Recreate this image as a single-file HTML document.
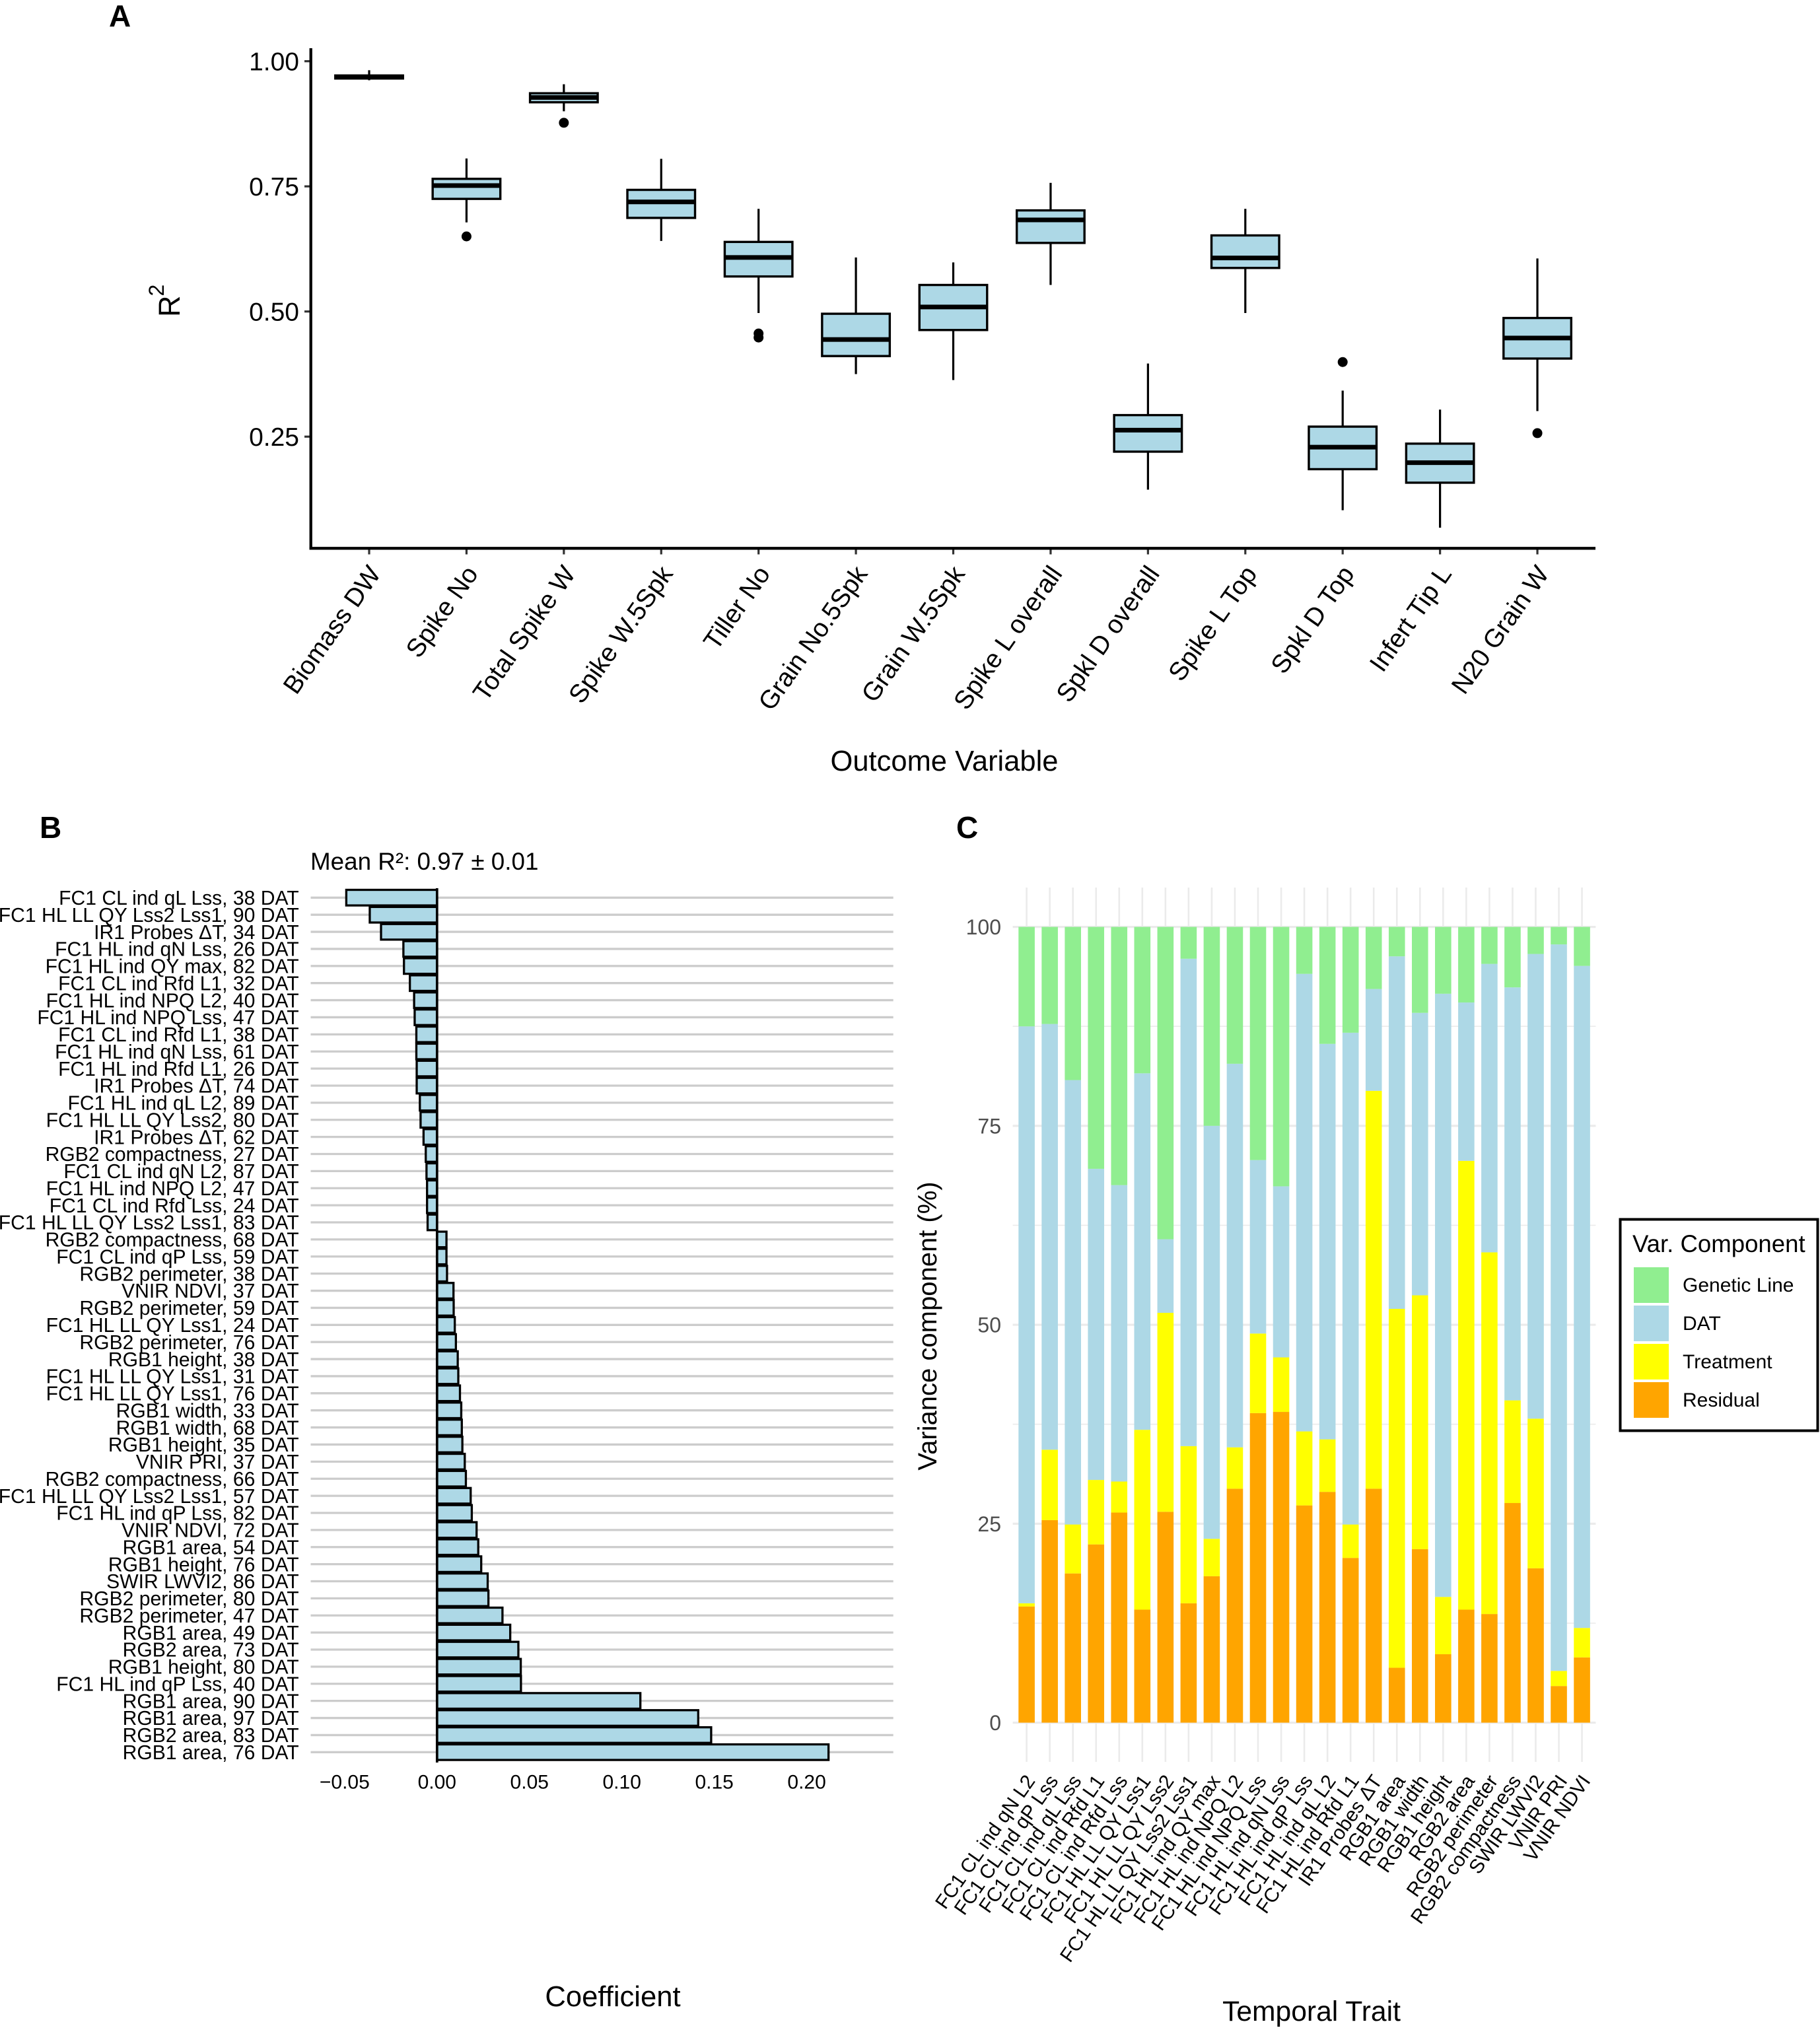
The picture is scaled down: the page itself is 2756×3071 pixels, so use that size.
<!DOCTYPE html>
<html lang="en">
<head>
<meta charset="utf-8">
<title>Model performance, coefficients and variance components</title>
<style>
html,body{margin:0;padding:0;background:#fff;}
svg{display:block;font-family:"Liberation Sans",Arial,Helvetica,sans-serif;}
</style>
</head>
<body>
<svg id="fig" xmlns="http://www.w3.org/2000/svg" width="2756" height="3071" viewBox="0 0 2756 3071">
<rect width="2756" height="3071" fill="#fff"/>
<text x="165" y="40" font-size="46" font-weight="700">A</text>
<text x="60" y="1269" font-size="46" font-weight="700">B</text>
<text x="1448" y="1269" font-size="46" font-weight="700">C</text>
<g id="panelA"></g>
<g id="panelB"></g>
<g id="panelC"></g>
<text transform="translate(272,480) rotate(-90)" font-size="45">R<tspan dy="-24" dx="-1" font-size="32">2</tspan></text>
<text x="1430" y="1167" font-size="43.5" text-anchor="middle">Outcome Variable</text>
<text x="470" y="1317" font-size="36.8">Mean R²: 0.97 ± 0.01</text>
<text x="928" y="3038" font-size="43.6" text-anchor="middle">Coefficient</text>
<text x="1986" y="3060" font-size="42.6" text-anchor="middle">Temporal Trait</text>
<text transform="translate(1418,2008) rotate(-90)" font-size="40" text-anchor="middle">Variance component (%)</text>
<g>
<rect x="2453.5" y="1846.5" width="299" height="320" fill="#fff" stroke="#000" stroke-width="4"/>
<text x="2472" y="1896" font-size="36.6">Var. Component</text>
<rect x="2474" y="1919" width="53" height="54" fill="#90EE90"/>
<text x="2548" y="1956" font-size="30">Genetic Line</text>
<rect x="2474" y="1977" width="53" height="54" fill="#ADD8E6"/>
<text x="2548" y="2014" font-size="30">DAT</text>
<rect x="2474" y="2035" width="53" height="54" fill="#FFFF00"/>
<text x="2548" y="2072" font-size="30">Treatment</text>
<rect x="2474" y="2093" width="53" height="54" fill="#FFA500"/>
<text x="2548" y="2130" font-size="30">Residual</text>
</g>
</svg>
<script>
/* Panel A data */
const outcomeCategories = ["Biomass DW","Spike No","Total Spike W","Spike W.5Spk","Tiller No","Grain No.5Spk","Grain W.5Spk","Spike L overall","Spkl D overall","Spike L Top","Spkl D Top","Infert Tip L","N20 Grain W"];
const boxQ1 = [0.9655,0.725,0.918,0.687,0.570,0.411,0.463,0.637,0.220,0.587,0.185,0.158,0.406];
const boxMedian = [0.968,0.7516,0.9275,0.719,0.608,0.444,0.509,0.683,0.263,0.607,0.229,0.198,0.447];
const boxQ3 = [0.9715,0.765,0.936,0.743,0.639,0.4955,0.553,0.702,0.293,0.652,0.270,0.236,0.487];
const whiskerLow = [0.962,0.678,0.900,0.641,0.497,0.375,0.363,0.553,0.144,0.497,0.103,0.068,0.301];
const whiskerHigh = [0.982,0.8057,0.954,0.805,0.705,0.608,0.598,0.757,0.396,0.705,0.342,0.304,0.606];
const boxOutliers = [[],[0.650],[0.877],[],[0.456,0.448],[],[],[],[],[],[0.399],[],[0.257]];
const outcomeTicks = [0.25,0.50,0.75,1.00];

/* Panel B data */
const coefTraits = ["FC1 CL ind qL Lss, 38 DAT","FC1 HL LL QY Lss2 Lss1, 90 DAT","IR1 Probes ΔT, 34 DAT","FC1 HL ind qN Lss, 26 DAT","FC1 HL ind QY max, 82 DAT","FC1 CL ind Rfd L1, 32 DAT","FC1 HL ind NPQ L2, 40 DAT","FC1 HL ind NPQ Lss, 47 DAT","FC1 CL ind Rfd L1, 38 DAT","FC1 HL ind qN Lss, 61 DAT","FC1 HL ind Rfd L1, 26 DAT","IR1 Probes ΔT, 74 DAT","FC1 HL ind qL L2, 89 DAT","FC1 HL LL QY Lss2, 80 DAT","IR1 Probes ΔT, 62 DAT","RGB2 compactness, 27 DAT","FC1 CL ind qN L2, 87 DAT","FC1 HL ind NPQ L2, 47 DAT","FC1 CL ind Rfd Lss, 24 DAT","FC1 HL LL QY Lss2 Lss1, 83 DAT","RGB2 compactness, 68 DAT","FC1 CL ind qP Lss, 59 DAT","RGB2 perimeter, 38 DAT","VNIR NDVI, 37 DAT","RGB2 perimeter, 59 DAT","FC1 HL LL QY Lss1, 24 DAT","RGB2 perimeter, 76 DAT","RGB1 height, 38 DAT","FC1 HL LL QY Lss1, 31 DAT","FC1 HL LL QY Lss1, 76 DAT","RGB1 width, 33 DAT","RGB1 width, 68 DAT","RGB1 height, 35 DAT","VNIR PRI, 37 DAT","RGB2 compactness, 66 DAT","FC1 HL LL QY Lss2 Lss1, 57 DAT","FC1 HL ind qP Lss, 82 DAT","VNIR NDVI, 72 DAT","RGB1 area, 54 DAT","RGB1 height, 76 DAT","SWIR LWVI2, 86 DAT","RGB2 perimeter, 80 DAT","RGB2 perimeter, 47 DAT","RGB1 area, 49 DAT","RGB2 area, 73 DAT","RGB1 height, 80 DAT","FC1 HL ind qP Lss, 40 DAT","RGB1 area, 90 DAT","RGB1 area, 97 DAT","RGB2 area, 83 DAT","RGB1 area, 76 DAT"];
const coefValues = [-0.0491,-0.0364,-0.0303,-0.0182,-0.0179,-0.0147,-0.0124,-0.0121,-0.0112,-0.0112,-0.011,-0.011,-0.0093,-0.0089,-0.0073,-0.0061,-0.0057,-0.0054,-0.0054,-0.0051,0.0051,0.0051,0.0054,0.0089,0.009,0.0096,0.0102,0.0112,0.0115,0.0124,0.0131,0.0134,0.0137,0.015,0.0156,0.0182,0.0188,0.0214,0.0223,0.0239,0.0274,0.0278,0.0354,0.0396,0.044,0.0453,0.0454,0.11,0.1413,0.1483,0.2118];
const coefTicks = [-0.05,0,0.05,0.10,0.15,0.20];
const coefTickLabels = ["−0.05","0.00","0.05","0.10","0.15","0.20"];

/* Panel C data */
const varianceTraits = ["FC1 CL ind qN L2","FC1 CL ind qP Lss","FC1 CL ind qL Lss","FC1 CL ind Rfd L1","FC1 CL ind Rfd Lss","FC1 HL LL QY Lss1","FC1 HL LL QY Lss2","FC1 HL LL QY Lss2 Lss1","FC1 HL ind QY max","FC1 HL ind NPQ L2","FC1 HL ind NPQ Lss","FC1 HL ind qN Lss","FC1 HL ind qP Lss","FC1 HL ind qL L2","FC1 HL ind Rfd L1","IR1 Probes ΔT","RGB1 area","RGB1 width","RGB1 height","RGB2 area","RGB2 perimeter","RGB2 compactness","SWIR LWVI2","VNIR PRI","VNIR NDVI"];
const residualShare = [14.6,25.45,18.75,22.4,26.4,14.2,26.5,15.0,18.4,29.4,38.9,39.05,27.3,29.0,20.7,29.4,6.9,21.8,8.6,14.2,13.65,27.6,19.4,4.6,8.2];
const treatmentShare = [0.4,8.85,6.15,8.1,3.9,22.6,25.0,19.75,4.7,5.2,10.0,6.85,9.3,6.6,4.2,50.0,45.1,31.9,7.2,56.4,45.45,12.9,18.8,1.9,3.7];
const datShare = [72.5,53.5,55.85,39.1,37.25,44.8,9.25,61.25,51.9,48.2,21.8,21.5,57.5,49.7,61.8,12.8,44.3,35.5,75.8,19.9,36.25,51.9,58.4,91.3,83.2];
const geneticShare = [12.5,12.2,19.25,30.4,32.45,18.4,39.25,4.0,25.0,17.2,29.3,32.6,5.9,14.7,13.3,7.8,3.7,10.8,8.4,9.5,4.65,7.6,3.4,2.2,4.9];
const varianceTicks = [0,25,50,75,100];
const varianceMinorTicks = [12.5,37.5,62.5,87.5];

const NS = "http://www.w3.org/2000/svg";
function mk(parent, tag, attrs, txt) {
  const el = document.createElementNS(NS, tag);
  for (const k in attrs) el.setAttribute(k, attrs[k]);
  if (txt !== undefined) el.textContent = txt;
  parent.appendChild(el);
  return el;
}
function slug(s) {
  return s.toLowerCase().replace(/[^a-z0-9]+/g, "-").replace(/^-|-$/g, "");
}

/* ---------- Panel A ---------- */
const gA = document.getElementById("panelA");
const yA = v => 92.7 + (1 - v) * 758;
const xA = i => 559 + i * 147.42;
const boxW = 102.5;
outcomeTicks.forEach(t => {
  const tick = mk(gA, "line", {x1: 461, x2: 470, y1: yA(t), y2: yA(t), stroke: "#333", "stroke-width": 3.2});
  
  
  const lab = mk(gA, "text", {x: 453, y: yA(t) + 14, "font-size": 39, "text-anchor": "end", fill: "#000"}, t.toFixed(2));
  
  
});
outcomeCategories.forEach((c, i) => {
  const x = xA(i);
  const name = slug(c);
  const tick = mk(gA, "line", {x1: x, x2: x, y1: 830, y2: 839.5, stroke: "#333", "stroke-width": 3.2});
  
  
  const lab = mk(gA, "text", {transform: `translate(${x + 19},869) rotate(-55)`, "font-size": 39, "text-anchor": "end", fill: "#000"}, c);
  
  
  const wh = mk(gA, "line", {x1: x, x2: x, y1: yA(whiskerLow[i]), y2: yA(whiskerHigh[i]), stroke: "#000", "stroke-width": 3.2});
  
  
  const box = mk(gA, "rect", {x: x - boxW / 2, y: yA(boxQ3[i]), width: boxW, height: yA(boxQ1[i]) - yA(boxQ3[i]), fill: "#ADD8E6", stroke: "#000", "stroke-width": 3.4});
  
  
  const med = mk(gA, "line", {x1: x - boxW / 2, x2: x + boxW / 2, y1: yA(boxMedian[i]), y2: yA(boxMedian[i]), stroke: "#000", "stroke-width": 7});
  
  
  boxOutliers[i].forEach(o => {
    const dot = mk(gA, "circle", {cx: x, cy: yA(o), r: 7.5, fill: "#000"});
    
    
  });
});
const axAy = mk(gA, "line", {x1: 470.7, x2: 470.7, y1: 73, y2: 832.4, stroke: "#000", "stroke-width": 4.3});


const axAx = mk(gA, "line", {x1: 468.5, x2: 2416, y1: 830.3, y2: 830.3, stroke: "#000", "stroke-width": 4.3});



/* ---------- Panel B ---------- */
const gB = document.getElementById("panelB");
const xB = v => 661.8 + v * 2799;
const yB = i => 1359.3 + i * 25.88;
coefTraits.forEach((t, i) => {
  const y = yB(i);
  const grid = mk(gB, "line", {x1: 470.5, x2: 1352.7, y1: y, y2: y, stroke: "#cccccc", "stroke-width": 3.3});
  
  
  const lab = mk(gB, "text", {x: 452.7, y: y + 10.7, "font-size": 30.1, "text-anchor": "end", fill: "#000"}, t);
  
  
});
coefTraits.forEach((t, i) => {
  const v = coefValues[i];
  const x0 = Math.min(xB(0), xB(v));
  const bar = mk(gB, "rect", {x: x0, y: yB(i) - 11.8, width: Math.abs(xB(v) - xB(0)), height: 23.6, fill: "#ADD8E6", stroke: "#000", "stroke-width": 3.3});
  
  
});
const zero = mk(gB, "line", {x1: xB(0), x2: xB(0), y1: 1345, y2: 2669, stroke: "#000", "stroke-width": 3.7});


coefTicks.forEach((t, i) => {
  const lab = mk(gB, "text", {x: xB(t), y: 2708.5, "font-size": 30, "text-anchor": "middle", fill: "#000"}, coefTickLabels[i]);
  
  
});

/* ---------- Panel C ---------- */
const gC = document.getElementById("panelC");
const xC = i => 1554.6 + i * 35.04;
const yC = v => 2608.6 - v * 12.05;
varianceMinorTicks.forEach(t => {
  const g = mk(gC, "line", {x1: 1533.6, x2: 2416.4, y1: yC(t), y2: yC(t), stroke: "#ebebeb", "stroke-width": 1.6});
  
  
});
varianceTicks.forEach(t => {
  const g = mk(gC, "line", {x1: 1533.6, x2: 2416.4, y1: yC(t), y2: yC(t), stroke: "#ebebeb", "stroke-width": 3.2});
  
  
  const lab = mk(gC, "text", {x: 1516, y: yC(t) + 11.5, "font-size": 32, "text-anchor": "end", fill: "#4d4d4d"}, String(t));
  
  
});
const seriesFill = ["#FFA500", "#FFFF00", "#ADD8E6", "#90EE90"];
const seriesKey = ["residual", "treatment", "dat", "genetic-line"];
varianceTraits.forEach((t, i) => {
  const x = xC(i);
  const vg = mk(gC, "line", {x1: x, x2: x, y1: 1344, y2: 2668, stroke: "#ebebeb", "stroke-width": 2.6});
  
  
  const lab = mk(gC, "text", {transform: `translate(${x + 14},2697) rotate(-55)`, "font-size": 30, "text-anchor": "end", fill: "#000"}, t);
  
  
});
varianceTraits.forEach((t, i) => {
  const x = xC(i);
  let base = 0;
  [residualShare, treatmentShare, datShare, geneticShare].forEach((arr, s) => {
    const top = base + arr[i];
    const seg = mk(gC, "rect", {x: x - 12.3, y: yC(top), width: 24.6, height: yC(base) - yC(top), fill: seriesFill[s]});
    
    
    base = top;
  });
});
</script>
</body>
</html>
